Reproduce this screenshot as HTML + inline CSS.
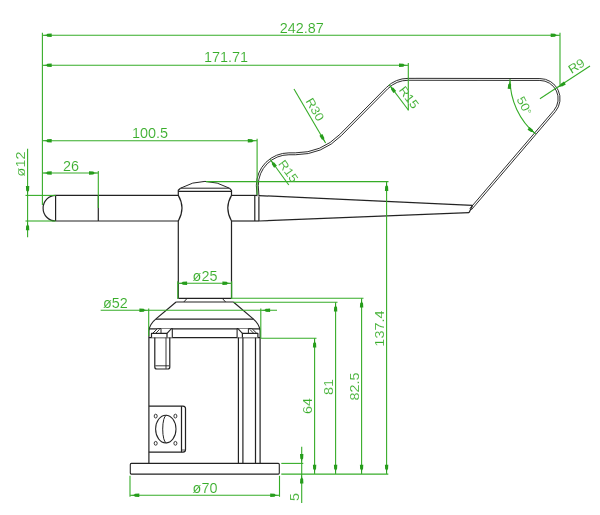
<!DOCTYPE html>
<html><head><meta charset="utf-8"><title>drawing</title>
<style>
html,body{margin:0;padding:0;background:#fff;}
body{width:600px;height:515px;overflow:hidden;}
svg{display:block;}
text{font-family:"Liberation Sans",sans-serif;fill:#38ad2a;stroke:#fff;stroke-width:0.12px;paint-order:fill stroke;}
</style></head><body>
<svg width="600" height="515" viewBox="0 0 600 515">
<rect width="600" height="515" fill="#fff"/>
<defs><filter id="soft" x="0" y="0" width="600" height="515" filterUnits="userSpaceOnUse"><feGaussianBlur stdDeviation="0.35"/></filter></defs>
<g stroke-linecap="butt" stroke-linejoin="round" filter="url(#soft)">
<path d="M55.6 195.4 A12.5 12.8 0 0 0 55.6 221.0" stroke="#242424" stroke-width="1.2" fill="none" />
<line x1="55.60" y1="195.40" x2="55.60" y2="221.00" stroke="#242424" stroke-width="1.2"/>
<line x1="98.30" y1="195.40" x2="98.30" y2="221.00" stroke="#242424" stroke-width="1.2"/>
<line x1="55.60" y1="195.40" x2="178.30" y2="195.40" stroke="#242424" stroke-width="1.2"/>
<line x1="55.60" y1="221.00" x2="178.30" y2="221.00" stroke="#242424" stroke-width="1.2"/>
<path d="M180.5 188.2 L178.3 190.3 L178.3 195.4 Q185.7 208.0 178.3 221.0 L178.3 298.3" stroke="#242424" stroke-width="1.2" fill="none" />
<path d="M229.4 188.2 L231.5 190.3 L231.5 195.4 Q224.1 208.0 231.5 221.0 L231.5 298.3" stroke="#242424" stroke-width="1.2" fill="none" />
<path d="M180.5 188.2 Q205 174.6 229.4 188.2 Z" stroke="#242424" stroke-width="1.0" fill="none" />
<line x1="178.30" y1="191.30" x2="231.50" y2="191.30" stroke="#242424" stroke-width="1.2"/>
<line x1="231.50" y1="195.40" x2="257.10" y2="195.40" stroke="#242424" stroke-width="1.2"/>
<line x1="231.50" y1="221.00" x2="259.00" y2="221.00" stroke="#242424" stroke-width="1.2"/>
<line x1="254.80" y1="195.40" x2="254.80" y2="221.00" stroke="#242424" stroke-width="1.2"/>
<line x1="258.90" y1="196.40" x2="258.90" y2="221.00" stroke="#242424" stroke-width="1.2"/>
<line x1="258.90" y1="195.60" x2="472.50" y2="205.40" stroke="#242424" stroke-width="1.2"/>
<line x1="258.90" y1="221.00" x2="469.00" y2="212.70" stroke="#242424" stroke-width="1.2"/>
<line x1="472.50" y1="205.40" x2="469.00" y2="212.70" stroke="#242424" stroke-width="1.2"/>
<path d="M257.05 196.20 L256.35 185.40 A32.55 32.55 0 0 1 288.90 152.85 L295.30 152.85 A63.05 63.05 0 0 0 339.88 134.38 L386.42 87.42 A30.95 30.95 0 0 1 408.30 78.35 L539.90 78.55 A20.15 20.15 0 0 1 555.34 111.65 L471.33 209.81" stroke="#242424" stroke-width="0.95" fill="none" />
<path d="M258.95 196.20 L258.25 185.40 A30.65 30.65 0 0 1 288.90 154.75 L295.30 154.75 A64.95 64.95 0 0 0 341.23 135.73 L387.76 88.76 A29.05 29.05 0 0 1 408.30 80.25 L539.90 80.45 A18.25 18.25 0 0 1 553.88 110.43 L469.87 208.59" stroke="#242424" stroke-width="0.95" fill="none" />
<line x1="178.30" y1="298.30" x2="231.50" y2="298.30" stroke="#242424" stroke-width="1.2"/>
<path d="M187.0 298.5 L183.8 302.0 M222.4 298.5 L225.6 302.0" stroke="#242424" stroke-width="1.0" fill="none" />
<line x1="176.10" y1="302.00" x2="233.40" y2="302.00" stroke="#242424" stroke-width="1.2"/>
<path d="M176.1 302.0 L156.0 318.9 Q149.4 324.3 148.9 331 L148.9 463.3" stroke="#242424" stroke-width="1.2" fill="none" />
<path d="M233.4 302.0 L253.2 318.9 Q259.6 324.3 260.1 331 L260.1 463.3" stroke="#242424" stroke-width="1.2" fill="none" />
<line x1="156.00" y1="319.20" x2="253.40" y2="319.20" stroke="#242424" stroke-width="1.2"/>
<line x1="148.90" y1="328.80" x2="260.10" y2="328.80" stroke="#242424" stroke-width="1.2"/>
<line x1="148.90" y1="337.60" x2="260.10" y2="337.60" stroke="#242424" stroke-width="1.2"/>
<path d="M151.5 337.6 L151.5 333.4 L152.5 333.4 L157.3 328.8 L172.3 328.8 L172.3 337.6 Z" stroke="none" stroke-width="1.1" fill="#fff" />
<path d="M151.5 337.6 L151.5 333.4 L167.0 333.4 L167.0 337.6" stroke="#242424" stroke-width="1.2" fill="none" />
<path d="M152.6 333.4 L157.3 328.8 L161.0 328.6 L161.0 333.4" stroke="#242424" stroke-width="1.0" fill="none" />
<path d="M155.6 333.4 L159.6 329.4" stroke="#242424" stroke-width="0.9" fill="none" />
<path d="M167.0 333.4 L171.2 328.8 L172.3 328.6 L172.3 337.6" stroke="#242424" stroke-width="1.1" fill="none" />
<path d="M257.9 337.6 L257.9 333.4 L256.9 333.4 L252.1 328.8 L237.1 328.8 L237.1 337.6 Z" stroke="none" stroke-width="1.1" fill="#fff" />
<path d="M257.9 337.6 L257.9 333.4 L242.4 333.4 L242.4 337.6" stroke="#242424" stroke-width="1.2" fill="none" />
<path d="M256.8 333.4 L252.1 328.8 L248.4 328.6 L248.4 333.4" stroke="#242424" stroke-width="1.0" fill="none" />
<path d="M253.8 333.4 L249.8 329.4" stroke="#242424" stroke-width="0.9" fill="none" />
<path d="M242.4 333.4 L238.2 328.8 L237.1 328.6 L237.1 337.6" stroke="#242424" stroke-width="1.1" fill="none" />
<path d="M154.8 337.6 L154.8 367.0 Q154.8 369.0 156.8 369.0 L167.8 369.0 Q169.8 369.0 169.8 367.0 L169.8 337.6" stroke="#242424" stroke-width="1.2" fill="none" />
<line x1="166.00" y1="337.60" x2="166.00" y2="368.80" stroke="#242424" stroke-width="0.9"/>
<line x1="155.30" y1="365.80" x2="169.50" y2="365.80" stroke="#242424" stroke-width="0.9"/>
<line x1="238.40" y1="337.60" x2="238.40" y2="463.30" stroke="#242424" stroke-width="1.2"/>
<line x1="242.90" y1="337.60" x2="242.90" y2="463.30" stroke="#242424" stroke-width="1.2"/>
<line x1="255.50" y1="337.60" x2="255.50" y2="463.30" stroke="#242424" stroke-width="1.2"/>
<path d="M148.9 406.1 L183.0 406.1 Q185.5 406.3 185.5 408.6 L185.5 449.8 Q185.5 452.0 183.0 452.2 L148.9 452.2" stroke="#242424" stroke-width="1.2" fill="none" />
<line x1="181.50" y1="406.10" x2="181.50" y2="452.20" stroke="#242424" stroke-width="1.2"/>
<line x1="181.50" y1="450.00" x2="185.50" y2="450.00" stroke="#242424" stroke-width="0.8"/>
<ellipse cx="165.8" cy="429.1" rx="10.2" ry="13.9" fill="none" stroke="#242424" stroke-width="1.05"/>
<path d="M166.4 415.3 A3.7 13.8 0 0 0 166.4 442.9" stroke="#242424" stroke-width="1.0" fill="none" />
<ellipse cx="155.7" cy="416.1" rx="1.5" ry="1.9" fill="none" stroke="#242424" stroke-width="0.9"/>
<ellipse cx="155.7" cy="443.3" rx="1.5" ry="1.9" fill="none" stroke="#242424" stroke-width="0.9"/>
<ellipse cx="175.4" cy="416.1" rx="1.5" ry="1.9" fill="none" stroke="#242424" stroke-width="0.9"/>
<ellipse cx="175.4" cy="443.3" rx="1.5" ry="1.9" fill="none" stroke="#242424" stroke-width="0.9"/>
<rect x="130.3" y="463.4" width="149.0" height="10.7" rx="1.0" fill="none" stroke="#242424" stroke-width="1.1"/>
<line x1="42.40" y1="32.80" x2="42.40" y2="205.00" stroke="#36ac28" stroke-width="1.1"/>
<line x1="42.40" y1="35.25" x2="560.00" y2="35.25" stroke="#36ac28" stroke-width="1.1"/>
<polygon points="42.40,35.25 46.40,34.70 47.40,33.80 51.70,33.55 51.70,36.95 47.40,36.70 46.40,35.80" fill="#259c1a"/>
<polygon points="560.00,35.25 556.00,35.80 555.00,36.70 550.70,36.95 550.70,33.55 555.00,33.80 556.00,34.70" fill="#259c1a"/>
<line x1="560.00" y1="32.80" x2="560.00" y2="87.00" stroke="#36ac28" stroke-width="1.1"/>
<text transform="translate(301.70 32.60) scale(1.03 0.98)" font-size="14" text-anchor="middle">242.87</text>
<line x1="42.40" y1="65.25" x2="408.30" y2="65.25" stroke="#36ac28" stroke-width="1.1"/>
<polygon points="42.40,65.25 46.40,64.70 47.40,63.80 51.70,63.55 51.70,66.95 47.40,66.70 46.40,65.80" fill="#259c1a"/>
<polygon points="408.30,65.25 404.30,65.80 403.30,66.70 399.00,66.95 399.00,63.55 403.30,63.80 404.30,64.70" fill="#259c1a"/>
<line x1="408.30" y1="63.00" x2="408.30" y2="110.50" stroke="#36ac28" stroke-width="1.1"/>
<text transform="translate(226.00 62.40) scale(1.03 0.98)" font-size="14" text-anchor="middle">171.71</text>
<line x1="42.40" y1="140.70" x2="257.10" y2="140.70" stroke="#36ac28" stroke-width="1.1"/>
<polygon points="42.40,140.70 46.40,140.15 47.40,139.25 51.70,139.00 51.70,142.40 47.40,142.15 46.40,141.25" fill="#259c1a"/>
<polygon points="257.10,140.70 253.10,141.25 252.10,142.15 247.80,142.40 247.80,139.00 252.10,139.25 253.10,140.15" fill="#259c1a"/>
<line x1="257.10" y1="138.70" x2="257.10" y2="195.00" stroke="#36ac28" stroke-width="1.1"/>
<text transform="translate(150.00 138.00) scale(1.03 0.98)" font-size="14" text-anchor="middle">100.5</text>
<line x1="42.40" y1="173.00" x2="98.30" y2="173.00" stroke="#36ac28" stroke-width="1.1"/>
<polygon points="42.40,173.00 46.40,172.45 47.40,171.55 51.70,171.30 51.70,174.70 47.40,174.45 46.40,173.55" fill="#259c1a"/>
<polygon points="98.30,173.00 94.30,173.55 93.30,174.45 89.00,174.70 89.00,171.30 93.30,171.55 94.30,172.45" fill="#259c1a"/>
<line x1="98.30" y1="171.00" x2="98.30" y2="208.00" stroke="#36ac28" stroke-width="1.1"/>
<text transform="translate(71.00 171.00) scale(1.03 0.98)" font-size="14" text-anchor="middle">26</text>
<line x1="27.60" y1="148.70" x2="27.60" y2="237.30" stroke="#36ac28" stroke-width="1.1"/>
<line x1="25.50" y1="195.40" x2="55.60" y2="195.40" stroke="#36ac28" stroke-width="1.1"/>
<line x1="25.50" y1="221.00" x2="55.60" y2="221.00" stroke="#36ac28" stroke-width="1.1"/>
<polygon points="27.60,195.40 27.05,191.40 26.15,190.40 25.90,186.10 29.30,186.10 29.05,190.40 28.15,191.40" fill="#259c1a"/>
<polygon points="27.60,221.00 28.15,225.00 29.05,226.00 29.30,230.30 25.90,230.30 26.15,226.00 27.05,225.00" fill="#259c1a"/>
<text transform="translate(25.00 164.00) rotate(-90.00) scale(1.03 0.9)" font-size="14" text-anchor="middle">ø12</text>
<line x1="206.00" y1="181.60" x2="388.50" y2="181.60" stroke="#36ac28" stroke-width="1.1"/>
<line x1="386.60" y1="181.60" x2="386.60" y2="474.10" stroke="#36ac28" stroke-width="1.1"/>
<polygon points="386.60,181.60 387.15,185.60 388.05,186.60 388.30,190.90 384.90,190.90 385.15,186.60 386.05,185.60" fill="#259c1a"/>
<polygon points="386.60,474.10 386.05,470.10 385.15,469.10 384.90,464.80 388.30,464.80 388.05,469.10 387.15,470.10" fill="#259c1a"/>
<text transform="translate(383.50 328.60) rotate(-90.00) scale(1.03 0.9)" font-size="14" text-anchor="middle">137.4</text>
<line x1="231.50" y1="298.30" x2="363.50" y2="298.30" stroke="#36ac28" stroke-width="1.1"/>
<line x1="361.60" y1="298.30" x2="361.60" y2="474.10" stroke="#36ac28" stroke-width="1.1"/>
<polygon points="361.60,298.30 362.15,302.30 363.05,303.30 363.30,307.60 359.90,307.60 360.15,303.30 361.05,302.30" fill="#259c1a"/>
<polygon points="361.60,474.10 361.05,470.10 360.15,469.10 359.90,464.80 363.30,464.80 363.05,469.10 362.15,470.10" fill="#259c1a"/>
<text transform="translate(358.60 386.50) rotate(-90.00) scale(1.03 0.9)" font-size="14" text-anchor="middle">82.5</text>
<line x1="233.40" y1="302.30" x2="337.50" y2="302.30" stroke="#36ac28" stroke-width="1.1"/>
<line x1="335.60" y1="302.30" x2="335.60" y2="474.10" stroke="#36ac28" stroke-width="1.1"/>
<polygon points="335.60,302.30 336.15,306.30 337.05,307.30 337.30,311.60 333.90,311.60 334.15,307.30 335.05,306.30" fill="#259c1a"/>
<polygon points="335.60,474.10 335.05,470.10 334.15,469.10 333.90,464.80 337.30,464.80 337.05,469.10 336.15,470.10" fill="#259c1a"/>
<text transform="translate(333.00 387.00) rotate(-90.00) scale(1.03 0.9)" font-size="14" text-anchor="middle">81</text>
<line x1="260.80" y1="338.20" x2="316.50" y2="338.20" stroke="#36ac28" stroke-width="1.1"/>
<line x1="314.60" y1="338.20" x2="314.60" y2="474.10" stroke="#36ac28" stroke-width="1.1"/>
<polygon points="314.60,338.20 315.15,342.20 316.05,343.20 316.30,347.50 312.90,347.50 313.15,343.20 314.05,342.20" fill="#259c1a"/>
<polygon points="314.60,474.10 314.05,470.10 313.15,469.10 312.90,464.80 316.30,464.80 316.05,469.10 315.15,470.10" fill="#259c1a"/>
<text transform="translate(311.80 406.00) rotate(-90.00) scale(1.03 0.9)" font-size="14" text-anchor="middle">64</text>
<line x1="281.30" y1="474.10" x2="388.30" y2="474.10" stroke="#36ac28" stroke-width="1.1"/>
<line x1="281.30" y1="463.40" x2="303.30" y2="463.40" stroke="#36ac28" stroke-width="1.1"/>
<line x1="301.70" y1="446.70" x2="301.70" y2="503.00" stroke="#36ac28" stroke-width="1.1"/>
<polygon points="301.70,463.40 301.15,459.40 300.25,458.40 300.00,454.10 303.40,454.10 303.15,458.40 302.25,459.40" fill="#259c1a"/>
<polygon points="301.70,474.10 302.25,478.10 303.15,479.10 303.40,483.40 300.00,483.40 300.25,479.10 301.15,478.10" fill="#259c1a"/>
<text transform="translate(298.50 497.00) rotate(-90.00) scale(1.03 0.9)" font-size="14" text-anchor="middle">5</text>
<line x1="130.00" y1="495.20" x2="279.50" y2="495.20" stroke="#36ac28" stroke-width="1.1"/>
<polygon points="130.00,495.20 134.00,494.65 135.00,493.75 139.30,493.50 139.30,496.90 135.00,496.65 134.00,495.75" fill="#259c1a"/>
<polygon points="279.50,495.20 275.50,495.75 274.50,496.65 270.20,496.90 270.20,493.50 274.50,493.75 275.50,494.65" fill="#259c1a"/>
<line x1="130.00" y1="475.80" x2="130.00" y2="496.80" stroke="#36ac28" stroke-width="1.1"/>
<line x1="279.50" y1="475.80" x2="279.50" y2="496.80" stroke="#36ac28" stroke-width="1.1"/>
<text transform="translate(205.00 493.00) scale(1.03 0.98)" font-size="14" text-anchor="middle">ø70</text>
<line x1="177.80" y1="283.30" x2="231.70" y2="283.30" stroke="#36ac28" stroke-width="1.1"/>
<polygon points="177.80,283.30 181.80,282.75 182.80,281.85 187.10,281.60 187.10,285.00 182.80,284.75 181.80,283.85" fill="#259c1a"/>
<polygon points="231.70,283.30 227.70,283.85 226.70,284.75 222.40,285.00 222.40,281.60 226.70,281.85 227.70,282.75" fill="#259c1a"/>
<line x1="177.80" y1="281.30" x2="177.80" y2="299.00" stroke="#36ac28" stroke-width="1.1"/>
<line x1="231.70" y1="281.30" x2="231.70" y2="299.00" stroke="#36ac28" stroke-width="1.1"/>
<text transform="translate(205.00 281.00) scale(1.03 0.98)" font-size="14" text-anchor="middle">ø25</text>
<line x1="100.70" y1="310.30" x2="277.00" y2="310.30" stroke="#36ac28" stroke-width="1.1"/>
<polygon points="148.70,310.30 144.70,310.85 143.70,311.75 139.40,312.00 139.40,308.60 143.70,308.85 144.70,309.75" fill="#259c1a"/>
<polygon points="260.80,310.30 264.80,309.75 265.80,308.85 270.10,308.60 270.10,312.00 265.80,311.75 264.80,310.85" fill="#259c1a"/>
<line x1="148.70" y1="308.50" x2="148.70" y2="336.00" stroke="#36ac28" stroke-width="1.1"/>
<line x1="260.80" y1="308.50" x2="260.80" y2="338.00" stroke="#36ac28" stroke-width="1.1"/>
<text transform="translate(115.30 307.50) scale(1.03 0.98)" font-size="14" text-anchor="middle">ø52</text>
<line x1="294.00" y1="89.00" x2="325.60" y2="143.00" stroke="#36ac28" stroke-width="1.1"/>
<polygon points="325.60,143.00 323.11,139.82 321.83,139.41 319.44,135.83 322.38,134.11 324.33,137.95 324.06,139.27" fill="#259c1a"/>
<text transform="translate(311.30 111.50) rotate(59.70) scale(0.95 0.87)" font-size="14" text-anchor="middle">R30</text>
<line x1="389.20" y1="84.60" x2="408.35" y2="110.00" stroke="#36ac28" stroke-width="1.1"/>
<polygon points="389.20,84.60 392.05,87.46 393.37,87.72 396.15,91.00 393.44,93.05 391.05,89.47 391.17,88.13" fill="#259c1a"/>
<text transform="translate(405.50 100.00) rotate(53.00) scale(0.95 0.87)" font-size="14" text-anchor="middle">R15</text>
<line x1="270.10" y1="159.30" x2="288.80" y2="185.00" stroke="#36ac28" stroke-width="1.1"/>
<polygon points="270.10,159.30 272.89,162.22 274.20,162.51 276.92,165.85 274.16,167.84 271.85,164.20 271.99,162.87" fill="#259c1a"/>
<text transform="translate(285.00 173.60) rotate(54.20) scale(0.95 0.87)" font-size="14" text-anchor="middle">R15</text>
<line x1="539.90" y1="98.70" x2="590.00" y2="66.00" stroke="#36ac28" stroke-width="1.1"/>
<polygon points="557.02,87.98 560.12,85.39 560.49,84.10 564.00,81.61 565.81,84.49 562.03,86.56 560.70,86.33" fill="#259c1a"/>
<text transform="translate(578.60 69.50) rotate(-32.05) scale(0.95 0.87)" font-size="14" text-anchor="middle">R9</text>
<path d="M510.00 79.00 A72.0 72.0 0 0 0 535.72 134.16" stroke="#36ac28" stroke-width="1.1" fill="none" />
<polygon points="510.00,79.50 510.27,83.53 511.10,84.59 511.05,88.90 507.66,88.66 508.20,84.39 509.17,83.45" fill="#259c1a"/>
<polygon points="536.02,133.86 532.46,131.95 531.12,132.09 527.50,129.76 529.49,127.01 532.83,129.74 533.11,131.06" fill="#259c1a"/>
<text transform="translate(520.70 107.50) rotate(62.00) scale(0.95 0.87)" font-size="14" text-anchor="middle">50<tspan font-size="11" dy="-1">°</tspan></text>
</g>
</svg>
</body></html>
